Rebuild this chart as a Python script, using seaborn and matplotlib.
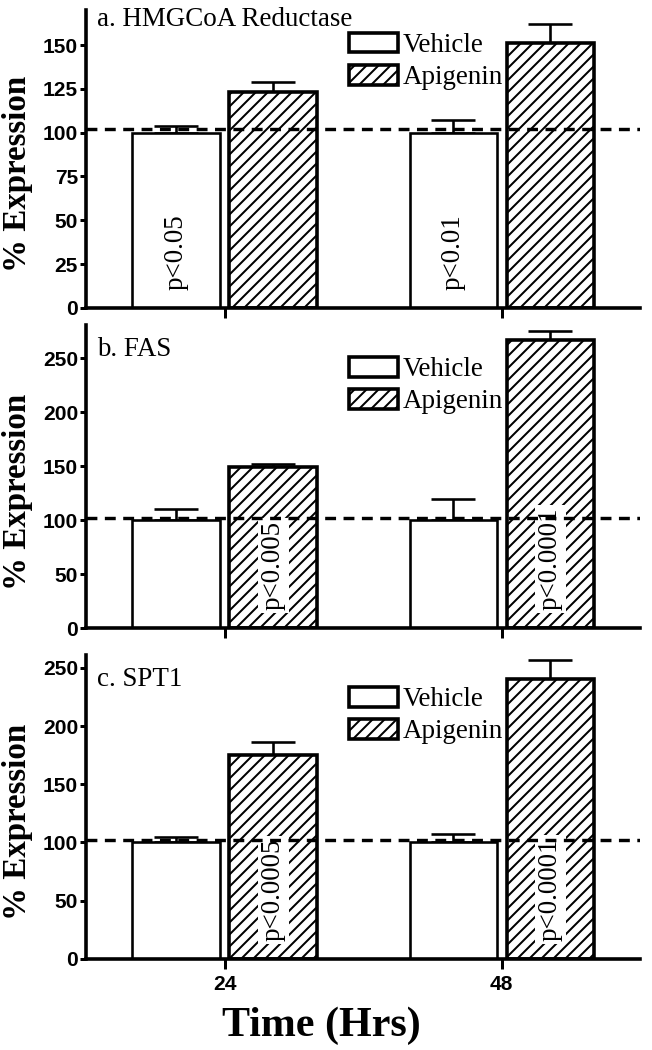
import numpy as np
import pandas as pd
import matplotlib
matplotlib.use("Agg")
import matplotlib.pyplot as plt
import seaborn as sns
from matplotlib.patches import Patch

# ---------------- DATA ----------------
times = ["24", "48"]
groups = ["Vehicle", "Apigenin"]

titles = ["a. HMGCoA Reductase", "b. FAS", "c. SPT1"]

# means per panel: [vehicle 24, vehicle 48], [apigenin 24, apigenin 48]
hmg_vehicle = [100, 100]
hmg_apigenin = [123, 151]
hmg_vehicle_err = [4, 7]
hmg_apigenin_err = [6, 11]

fas_vehicle = [100, 100]
fas_apigenin = [149, 267]
fas_vehicle_err = [10, 20]
fas_apigenin_err = [3, 8]

spt_vehicle = [100, 100]
spt_apigenin = [175, 240]
spt_vehicle_err = [5, 7]
spt_apigenin_err = [11, 17]

baseline = [102, 102, 102]
ylims = [170, 281, 261]
yticks = [[0, 25, 50, 75, 100, 125, 150], [0, 50, 100, 150, 200, 250], [0, 50, 100, 150, 200, 250]]

# p-value labels: (panel, group, time index, text)
p_labels = [
    (0, "Vehicle", 0, "p<0.05"),
    (0, "Vehicle", 1, "p<0.01"),
    (1, "Apigenin", 0, "p<0.005"),
    (1, "Apigenin", 1, "p<0.0001"),
    (2, "Apigenin", 0, "p<0.0005"),
    (2, "Apigenin", 1, "p<0.0001"),
]

panels = [
    (hmg_vehicle, hmg_apigenin, hmg_vehicle_err, hmg_apigenin_err),
    (fas_vehicle, fas_apigenin, fas_vehicle_err, fas_apigenin_err),
    (spt_vehicle, spt_apigenin, spt_vehicle_err, spt_apigenin_err),
]

# ---------------- STYLE ----------------
sns.set_style("ticks")
plt.rcParams["hatch.linewidth"] = 1.0
plt.rcParams["font.family"] = ["Liberation Sans", "DejaVu Sans"]
for key in ["text.color", "axes.labelcolor", "xtick.color", "ytick.color", "axes.edgecolor"]:
    plt.rcParams[key] = "black"

SERIF = ["Liberation Serif", "DejaVu Serif"]
DPI = 144

fig = plt.figure(figsize=(652 / DPI, 1050 / DPI), dpi=DPI)

# axes boxes in figure fraction: left, bottom, width, height
boxes = [
    [0.132, 0.7067, 0.850, 0.2838],
    [0.132, 0.4019, 0.850, 0.2886],
    [0.132, 0.0867, 0.850, 0.2895],
]

for i, (veh, api, veh_err, api_err) in enumerate(panels):
    ax = fig.add_axes(boxes[i])

    df = pd.DataFrame({
        "time": times * 2,
        "group": [groups[0]] * 2 + [groups[1]] * 2,
        "expr": veh + api,
    })
    errs = {groups[0]: veh_err, groups[1]: api_err}

    sns.barplot(data=df, x="time", y="expr", hue="group", order=times,
                hue_order=groups, palette=["white", "white"], width=0.7,
                gap=0.1, edgecolor="black", linewidth=1.3, legend=False,
                errorbar=None, ax=ax, zorder=2)

    centers = {}
    for g, cont in zip(groups, ax.containers):
        for j, bar in enumerate(cont):
            if g == "Apigenin":
                bar.set_hatch("////")
                bar.set_linewidth(1.8)
            xc = bar.get_x() + bar.get_width() / 2
            centers[(g, j)] = xc
            ax.errorbar(xc, bar.get_height(), yerr=[[0], [errs[g][j]]],
                        fmt="none", ecolor="black", elinewidth=1.3,
                        capsize=11, capthick=1.3, zorder=1)

    ax.axhline(baseline[i], color="black", lw=1.7, ls=(0, (3.2, 2.2)), zorder=5)

    for (pi, g, j, txt) in p_labels:
        if pi != i:
            continue
        ax.annotate(txt, (centers[(g, j)], 0), xytext=(0, 9), textcoords="offset points",
                    rotation=90, ha="center", va="bottom",
                    family=SERIF, fontsize=13.5, zorder=4,
                    bbox=dict(facecolor="white", edgecolor="none", pad=1.5))

    ax.set_xlim(-0.5, 1.5)
    ax.set_ylim(0, ylims[i])
    ax.set_yticks(yticks[i])
    sns.despine(ax=ax)
    for s in ["left", "bottom"]:
        ax.spines[s].set_linewidth(1.8)
    ax.tick_params(axis="y", length=3, width=1.5, labelsize=10.5, pad=1)
    ax.tick_params(axis="x", length=5, width=1.5, labelsize=10.5, pad=3)
    for lab in ax.get_yticklabels() + ax.get_xticklabels():
        lab.set_fontweight("bold")

    ax.set_ylabel("% Expression", family=SERIF, fontweight="bold", fontsize=16.5)
    ax.yaxis.set_label_coords(-0.095, 0.45)
    if i < 2:
        ax.set_xticklabels([])
        ax.set_xlabel("")
    else:
        ax.set_xlabel("Time (Hrs)", family=SERIF, fontweight="bold", fontsize=21)
        ax.xaxis.set_label_coords(0.424, -0.155)

    ax.text(0.02, 1.01 if i == 0 else 0.96, titles[i], transform=ax.transAxes,
            family=SERIF, fontsize=13.5, va="top", ha="left")

    handles = [
        Patch(facecolor="white", edgecolor="black", linewidth=1.8, label="Vehicle"),
        Patch(facecolor="white", edgecolor="black", linewidth=1.8, hatch="////", label="Apigenin"),
    ]
    ax.legend(handles=handles, loc="upper left", bbox_to_anchor=(0.455, 0.96 if i == 0 else 0.93),
              frameon=False, prop={"family": SERIF, "size": 13.5},
              handlelength=1.8, handleheight=0.75, handletextpad=0.2,
              labelspacing=0.25, borderaxespad=0)

fig.savefig("out.png", dpi=DPI)
